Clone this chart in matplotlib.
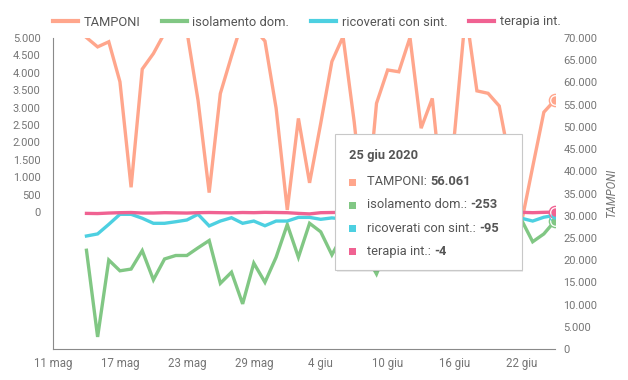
import pandas as pd
import matplotlib
matplotlib.use("Agg")
import matplotlib.pyplot as plt
import matplotlib.dates as mdates
from matplotlib.patches import Rectangle
from matplotlib.ticker import FuncFormatter, FixedLocator

plt.rcParams["font.family"] = ["Roboto", "DejaVu Sans"]

# ======================================
# DATA (daily variation, 14 mag - 25 giu 2020)
# ======================================

dates = pd.date_range("2020-05-14", "2020-06-25", freq="D")

tamponi = [70100, 68000, 69150, 60160, 36400, 63000, 66500, 71100, 74000, 71600,
           56000, 35200, 57500, 65900, 74000, 72200, 69300, 54200, 31300, 51900,
           37400, 50800, 64700, 70300, 51100, 28000, 55300, 62800, 62400, 70100,
           49700, 56400, 32000, 48600, 76000, 58100, 57550, 54700, 41600, 28500,
           41000, 53300, 56061]

isolamento = [-1100, -3590, -1380, -1690, -1640, -1110, -1950, -1350, -1250, -1250,
              -1030, -820, -2050, -1730, -2640, -1470, -2020, -1300, -360, -1300,
              -325, -570, -1230, -650, -900, -1200, -1780, -1000, -800, -600,
              -1100, -700, -1300, -500, -900, -400, -700, -300, -500, -230,
              -855, -630, -253]

ricoverati = [-690, -630, -355, -66, -66, -180, -325, -325, -280, -230,
              -66, -400, -260, -165, -325, -260, -395, -260, -260, -155,
              -155, -210, -170, -200, -150, -250, -300, -180, -200, -150,
              -250, -120, -200, -180, -150, -220, -100, -160, -120, -180,
              -260, -150, -95]

terapia = [-40, -45, -30, -20, -15, -30, -30, -20, -25, -30,
           -20, -15, -20, -25, -15, -20, -10, -15, -20, -40,
           -55, -20, -15, -10, -20, -15, -10, -10, -15, -10,
           -10, -15, -10, -5, -15, -10, -5, -15, -5, -10,
           -20, -10, -4]

series_names = ["TAMPONI", "isolamento dom.", "ricoverati con sint.", "terapia int."]
colors = ["#FFA68C", "#81C784", "#4DD0E1", "#F06292"]

tooltip_title = "25 giu 2020"
tooltip_values = ["56.061", "-253", "-95", "-4"]

month_names = ["", "gen", "feb", "mar", "apr", "mag", "giu",
               "lug", "ago", "set", "ott", "nov", "dic"]

# ======================================
# FIGURE
# ======================================

W, H = 628, 380
fig = plt.figure(figsize=(W / 100, H / 100), dpi=100)

left, right, top, bottom = 53, 555, 38, 349
rect = [left / W, 1 - bottom / H, (right - left) / W, (bottom - top) / H]

ax_r = fig.add_axes(rect)      # TAMPONI (right axis)
ax_l = ax_r.twinx()            # other series (left axis)
ax_l.yaxis.tick_left()
ax_r.yaxis.tick_right()

lw = 2.4
ax_r.plot(dates, tamponi, color=colors[0], lw=lw, solid_joinstyle="miter")
ax_l.plot(dates, isolamento, color=colors[1], lw=lw, solid_joinstyle="miter")
ax_l.plot(dates, ricoverati, color=colors[2], lw=lw, solid_joinstyle="miter")
ax_l.plot(dates, terapia, color=colors[3], lw=lw, solid_joinstyle="miter")

# highlighted last point (hover state)
ax_r.plot(dates[-1], tamponi[-1], "o", ms=8.8, mfc="white", mec=colors[0], mew=1.0, zorder=5)
ax_r.plot(dates[-1], tamponi[-1], "o", ms=6.0, mfc=colors[0], mec="none", zorder=6)
for vals, c in zip([isolamento, ricoverati, terapia], colors[1:]):
    ax_l.plot(dates[-1], vals[-1], "o", ms=8.8, mfc="white", mec=c, mew=1.0, zorder=5)
    ax_l.plot(dates[-1], vals[-1], "o", ms=6.0, mfc=c, mec="none", zorder=6)

# axes limits
ax_r.set_xlim(pd.Timestamp("2020-05-11"), pd.Timestamp("2020-06-25"))
ax_r.set_ylim(0, 70000)
ax_l.set_ylim(-3937, 5000)

# ticks
grey = "#757575"
xticks = pd.date_range("2020-05-11", periods=8, freq="6D")
ax_r.xaxis.set_major_locator(FixedLocator(mdates.date2num(xticks)))
ax_r.xaxis.set_major_formatter(FuncFormatter(
    lambda v, p: f"{mdates.num2date(v).day} {month_names[mdates.num2date(v).month]}"))

thousands = FuncFormatter(lambda v, p: f"{int(v):,}".replace(",", "."))
ax_r.yaxis.set_major_locator(FixedLocator(range(0, 70001, 5000)))
ax_r.yaxis.set_major_formatter(thousands)
ax_l.yaxis.set_major_locator(FixedLocator(range(0, 5001, 500)))
ax_l.yaxis.set_major_formatter(thousands)

ax_r.tick_params(axis="x", length=0, pad=6, labelsize=8.3, labelcolor=grey)
ax_r.tick_params(axis="y", length=0, pad=6, labelsize=7.9, labelcolor=grey)
ax_l.tick_params(axis="y", length=0, pad=9, labelsize=7.9, labelcolor=grey)

for a in (ax_r, ax_l):
    for s in ("top", "right", "left", "bottom"):
        a.spines[s].set_visible(False)
ax_l.spines["left"].set_visible(True)
ax_l.spines["left"].set_color("#8a8a8a")
ax_r.spines["bottom"].set_visible(True)
ax_r.spines["bottom"].set_color("#8a8a8a")

fig.text(612 / W, 1 - 193 / H, "TAMPONI", rotation=90, ha="center", va="center",
         fontsize=8.3, color=grey, style="italic")

# legend
handles = [plt.Line2D([], [], color=c, lw=3) for c in colors]
fig.legend(handles, series_names, loc="center left",
           bbox_to_anchor=(53 / W, 1 - 22 / H), ncol=4, frameon=False,
           borderaxespad=0, borderpad=0, handlelength=1.95, handletextpad=0.4,
           columnspacing=1.7, fontsize=9.3, labelcolor="#555555")

# ======================================
# TOOLTIP
# ======================================

tx0, tx1, ty0, ty1 = 335, 521.7, 134, 270
fig.add_artist(Rectangle((tx0 / W + 1.5 / W, 1 - ty1 / H - 2 / H), (tx1 - tx0) / W, (ty1 - ty0) / H,
                         transform=fig.transFigure, facecolor="#000000", alpha=0.08,
                         edgecolor="none", zorder=9))
fig.add_artist(Rectangle((tx0 / W, 1 - ty1 / H), (tx1 - tx0) / W, (ty1 - ty0) / H,
                         transform=fig.transFigure, facecolor="white",
                         edgecolor="#c8c8c8", lw=0.8, zorder=10))

fig.text(349 / W, 1 - 155 / H, tooltip_title, ha="left", va="center",
         fontsize=9.3, fontweight="bold", color="#555555", zorder=11)

row_y = [182, 205, 228.3, 251]
for name, val, c, y in zip(series_names, tooltip_values, colors, row_y):
    fig.add_artist(Rectangle(((352 - 3.5) / W, 1 - (y + 3.5) / H), 7 / W, 7 / H,
                             transform=fig.transFigure, facecolor=c,
                             edgecolor="none", zorder=11))
    t = fig.text(367.5 / W, 1 - y / H, name + ": ", ha="left", va="center",
                 fontsize=9.3, color="#555555", zorder=11)
    fig.add_artist(plt.Annotation(val, xy=(1, 0), xycoords=t, ha="left", va="bottom",
                                  fontsize=9.3, fontweight="bold", color="#555555",
                                  zorder=11))

fig.savefig("out.png", dpi=100)
